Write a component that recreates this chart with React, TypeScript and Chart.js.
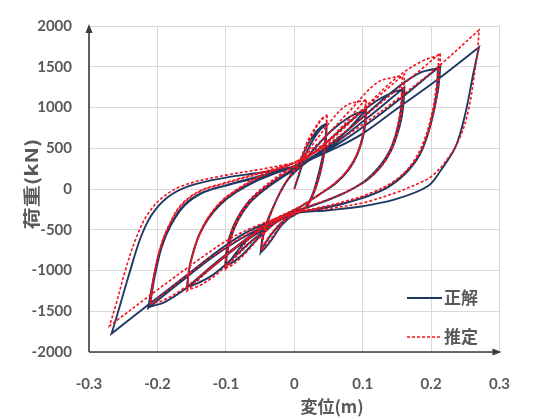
import React, { useEffect, useRef } from 'react';
import { Chart, registerables } from 'chart.js';

Chart.register(...registerables);

type Pt = [number, number];

const xTickLabels = ['-0.3', '-0.2', '-0.1', '0', '0.1', '0.2', '0.3'];
const yTickLabels = ['-2000', '-1500', '-1000', '-500', '0', '500', '1000', '1500', '2000'];
const seriesLabels = ['正解', '推定'];
const xTitle = '変位(m)';
const yTitle = '荷重(kN)';

// ---- 正解 (navy, solid) ----
const trueAmp1: Pt[] = [
  [0, 0], [0.008, 200], [0.017, 430], [0.028, 610], [0.038, 730], [0.047, 790], [0.047, 790],
  [0.047, 680], [0.044, 450], [0.038, 200], [0.028, -60], [0.016, -240], [0, -320], [-0.015, -390], [-0.03, -520], [-0.042, -660], [-0.0485, -767], [-0.0485, -767],
  [-0.046, -600], [-0.038, -380], [-0.028, -170], [-0.017, 20], [-0.005, 170], [0.008, 330], [0.018, 520], [0.03, 680], [0.04, 770], [0.047, 800], [0.047, 800],
  [0.046, 660], [0.042, 420], [0.035, 170], [0.026, -80], [0.014, -250], [0, -310], [-0.018, -440], [-0.032, -610], [-0.043, -730], [-0.049, -775], [-0.049, -775],
  [-0.047, -620], [-0.042, -450], [-0.032, -244], [-0.0205, -42], [-0.009, 118], [0.005, 239], [0.02, 340], [0.04, 450], [0.06, 580], [0.08, 740], [0.095, 880], [0.105, 964], [0.105, 964],
];
const trueAmp2: Pt[] = [
  [0.104, 800], [0.1, 620], [0.092, 420], [0.08, 240], [0.062, 80], [0.04, -50], [0.02, -160], [0, -260], [-0.025, -360], [-0.05, -480], [-0.075, -680], [-0.1, -950], [-0.1, -950],
  [-0.098, -780], [-0.092, -580], [-0.082, -380], [-0.066, -180], [-0.045, -20], [-0.02, 130], [0.005, 270], [0.03, 500], [0.055, 720], [0.08, 880], [0.095, 940], [0.104, 950], [0.104, 950],
  [0.103, 790], [0.099, 610], [0.091, 410], [0.078, 230], [0.06, 70], [0.038, -60], [0.018, -170], [0, -270], [-0.025, -400], [-0.05, -580], [-0.075, -800], [-0.092, -910], [-0.101, -940], [-0.101, -940],
  [-0.099, -770], [-0.094, -570], [-0.084, -370], [-0.068, -170], [-0.047, -10], [-0.022, 140], [0, 250], [0.03, 390], [0.06, 560], [0.09, 760], [0.12, 960], [0.14, 1100], [0.161, 1247], [0.161, 1247],
];
const trueAmp3: Pt[] = [
  [0.16, 1080], [0.157, 880], [0.151, 680], [0.142, 480], [0.128, 290], [0.108, 120], [0.08, -20], [0.05, -130], [0.02, -220], [0, -280], [-0.03, -400], [-0.06, -550], [-0.09, -740], [-0.12, -940], [-0.157, -1211], [-0.157, -1211],
  [-0.154, -1000], [-0.148, -790], [-0.139, -570], [-0.126, -370], [-0.108, -190], [-0.085, -40], [-0.055, 100], [-0.025, 200], [0, 280], [0.04, 520], [0.08, 820], [0.12, 1080], [0.145, 1190], [0.158, 1220], [0.158, 1220],
  [0.157, 1060], [0.154, 860], [0.148, 660], [0.139, 460], [0.125, 280], [0.105, 110], [0.078, -30], [0.048, -140], [0.02, -225], [0, -285], [-0.03, -430], [-0.06, -620], [-0.09, -850], [-0.12, -1060], [-0.145, -1170], [-0.156, -1195], [-0.156, -1195],
  [-0.154, -1000], [-0.148, -780], [-0.139, -560], [-0.126, -360], [-0.108, -180], [-0.085, -30], [-0.055, 110], [-0.025, 210], [0, 280], [0.04, 430], [0.08, 640], [0.12, 880], [0.16, 1140], [0.19, 1350], [0.2135, 1508], [0.2135, 1508],
];
const trueAmp4: Pt[] = [
  [0.212, 1350], [0.21, 1206], [0.201, 843], [0.187, 481], [0.168, 239], [0.14, 38], [0.11, -80], [0.07, -180], [0.03, -250], [0, -300], [-0.04, -440], [-0.08, -620], [-0.12, -840], [-0.16, -1100], [-0.19, -1300], [-0.2135, -1460], [-0.2135, -1460],
  [-0.2065, -1130], [-0.195, -727], [-0.181, -445], [-0.162, -203], [-0.134, -42], [-0.1015, 38], [-0.05, 150], [0, 270], [0.05, 530], [0.1, 880], [0.15, 1240], [0.185, 1430], [0.21, 1480], [0.21, 1480],
  [0.208, 1180], [0.2, 830], [0.186, 470], [0.166, 230], [0.138, 30], [0.108, -85], [0.07, -185], [0.03, -255], [0, -305], [-0.04, -470], [-0.08, -690], [-0.12, -960], [-0.16, -1230], [-0.19, -1390], [-0.211, -1445], [-0.211, -1445],
  [-0.205, -1120], [-0.194, -720], [-0.18, -440], [-0.16, -200], [-0.132, -40], [-0.1, 45], [-0.05, 160], [0, 280], [0.06, 500], [0.1, 680], [0.15, 985], [0.21, 1347], [0.27, 1740], [0.27, 1740],
];
const trueAmp5: Pt[] = [
  [0.2615, 1408], [0.25, 925], [0.236, 522], [0.215, 240], [0.195, 34], [0.147, -128], [0.1, -211], [0.05, -260], [0, -300], [-0.06, -490], [-0.1, -690], [-0.15, -1010], [-0.21, -1400], [-0.267, -1774], [-0.267, -1774],
  [-0.2555, -1452], [-0.2415, -1049], [-0.225, -607], [-0.209, -324], [-0.1855, -103], [-0.153, 39], [-0.1, 140], [-0.05, 200], [0, 270],
];

// ---- 推定 (red, dashed) ----
const estAmp1: Pt[] = [
  [0, 0], [0.008, 230], [0.017, 480], [0.028, 690], [0.038, 830], [0.047, 900], [0.047, 900],
  [0.047, 760], [0.045, 500], [0.039, 230], [0.029, -40], [0.017, -230], [0, -310], [-0.015, -380], [-0.03, -510], [-0.042, -650], [-0.047, -750], [-0.047, -750],
  [-0.045, -590], [-0.037, -370], [-0.027, -160], [-0.016, 30], [-0.004, 190], [0.009, 370], [0.019, 580], [0.031, 760], [0.041, 870], [0.048, 890], [0.048, 890],
  [0.047, 740], [0.044, 480], [0.037, 200], [0.027, -60], [0.015, -240], [0, -300], [-0.018, -430], [-0.033, -600], [-0.044, -720], [-0.048, -760], [-0.048, -760],
  [-0.046, -600], [-0.041, -430], [-0.031, -230], [-0.02, -30], [-0.008, 140], [0.006, 270], [0.02, 390], [0.04, 520], [0.06, 680], [0.08, 860], [0.095, 1010], [0.105, 1106], [0.105, 1106],
];
const estAmp2: Pt[] = [
  [0.105, 930], [0.102, 720], [0.095, 500], [0.083, 290], [0.065, 110], [0.043, -30], [0.022, -150], [0, -250], [-0.025, -350], [-0.05, -480], [-0.075, -700], [-0.1, -980], [-0.1, -980],
  [-0.098, -800], [-0.092, -590], [-0.082, -380], [-0.066, -170], [-0.045, 0], [-0.02, 160], [0.005, 310], [0.03, 580], [0.055, 850], [0.075, 1020], [0.095, 1075], [0.104, 1080], [0.104, 1080],
  [0.104, 900], [0.101, 700], [0.094, 480], [0.081, 270], [0.063, 100], [0.041, -40], [0.02, -160], [0, -260], [-0.025, -400], [-0.05, -590], [-0.075, -820], [-0.092, -940], [-0.101, -970], [-0.101, -970],
  [-0.099, -790], [-0.094, -580], [-0.084, -370], [-0.068, -160], [-0.047, 10], [-0.022, 170], [0, 290], [0.03, 450], [0.06, 650], [0.09, 880], [0.12, 1110], [0.14, 1260], [0.161, 1408], [0.161, 1408],
];
const estAmp3: Pt[] = [
  [0.16, 1220], [0.158, 1000], [0.153, 770], [0.145, 540], [0.132, 330], [0.112, 150], [0.085, 0], [0.055, -110], [0.025, -200], [0, -270], [-0.03, -390], [-0.06, -550], [-0.09, -750], [-0.12, -960], [-0.157, -1250], [-0.157, -1250],
  [-0.154, -1020], [-0.148, -800], [-0.139, -570], [-0.126, -360], [-0.108, -170], [-0.085, -20], [-0.055, 130], [-0.025, 240], [0, 320], [0.04, 600], [0.08, 950], [0.12, 1300], [0.145, 1370], [0.158, 1380], [0.158, 1380],
  [0.157, 1190], [0.155, 970], [0.15, 740], [0.142, 510], [0.129, 310], [0.109, 130], [0.082, -10], [0.052, -120], [0.022, -210], [0, -275], [-0.03, -430], [-0.06, -630], [-0.09, -870], [-0.12, -1090], [-0.145, -1210], [-0.156, -1235], [-0.156, -1235],
  [-0.154, -1010], [-0.148, -790], [-0.139, -560], [-0.126, -350], [-0.108, -160], [-0.085, -10], [-0.055, 140], [-0.025, 250], [0, 320], [0.04, 500], [0.08, 740], [0.12, 1010], [0.16, 1290], [0.19, 1500], [0.2135, 1670], [0.2135, 1670],
];
const estAmp4: Pt[] = [
  [0.213, 1500], [0.211, 1300], [0.204, 950], [0.192, 600], [0.175, 330], [0.15, 120], [0.115, -40], [0.075, -150], [0.035, -230], [0, -290], [-0.04, -430], [-0.08, -610], [-0.12, -830], [-0.16, -1080], [-0.19, -1280], [-0.211, -1420], [-0.211, -1420],
  [-0.206, -1110], [-0.196, -730], [-0.183, -450], [-0.165, -200], [-0.138, -30], [-0.105, 60], [-0.05, 190], [0, 320], [0.05, 600], [0.1, 980], [0.15, 1370], [0.187, 1569], [0.211, 1640], [0.211, 1640],
  [0.21, 1460], [0.208, 1270], [0.201, 920], [0.189, 580], [0.172, 310], [0.147, 100], [0.112, -50], [0.073, -160], [0.033, -240], [0, -295], [-0.04, -460], [-0.08, -680], [-0.12, -950], [-0.16, -1210], [-0.19, -1360], [-0.21, -1410], [-0.21, -1410],
  [-0.206, -1100], [-0.196, -720], [-0.183, -440], [-0.165, -190], [-0.137, -20], [-0.104, 70], [-0.05, 200], [0, 330], [0.06, 580], [0.1, 790], [0.15, 1100], [0.21, 1500], [0.27, 1950], [0.27, 1950],
];
const estAmp5: Pt[] = [
  [0.268, 1700], [0.264, 1448], [0.2545, 964], [0.2406, 602], [0.2196, 320], [0.2, 150], [0.187, 90], [0.15, -40], [0.1, -170], [0.05, -240], [0, -290], [-0.06, -470], [-0.1, -640], [-0.15, -930], [-0.21, -1300], [-0.27, -1680], [-0.27, -1680],
  [-0.26, -1400], [-0.247, -1000], [-0.231, -600], [-0.215, -320], [-0.192, -100], [-0.16, 50], [-0.1, 170], [-0.05, 240], [0, 320],
];

const trueSeries: Pt[] = [...trueAmp1, ...trueAmp2, ...trueAmp3, ...trueAmp4, ...trueAmp5];
const estSeries: Pt[] = [...estAmp1, ...estAmp2, ...estAmp3, ...estAmp4, ...estAmp5];

const NAVY = '#1f3864';
const RED = '#f0141e';
const TEXT = '#595959';

const decorPlugin = {
  id: 'decor',
  afterDraw(chart: any) {
    const { ctx, chartArea: a } = chart;
    ctx.save();
    // axes with arrows
    ctx.strokeStyle = '#3c3c3c';
    ctx.fillStyle = '#3c3c3c';
    ctx.lineWidth = 1.6;
    ctx.beginPath();
    ctx.moveTo(a.left, a.bottom);
    ctx.lineTo(a.left, a.top + 5);
    ctx.moveTo(a.left, a.bottom);
    ctx.lineTo(a.right - 5, a.bottom);
    ctx.stroke();
    ctx.beginPath();
    ctx.moveTo(a.left, a.top - 2);
    ctx.lineTo(a.left - 3.5, a.top + 7);
    ctx.lineTo(a.left + 3.5, a.top + 7);
    ctx.closePath();
    ctx.fill();
    ctx.beginPath();
    ctx.moveTo(a.right + 2, a.bottom);
    ctx.lineTo(a.right - 7, a.bottom - 3.5);
    ctx.lineTo(a.right - 7, a.bottom + 3.5);
    ctx.closePath();
    ctx.fill();

    // axis titles
    ctx.fillStyle = TEXT;
    ctx.font = "bold 17px 'Noto Sans CJK JP'";
    ctx.textAlign = 'center';
    ctx.textBaseline = 'middle';
    ctx.fillText(xTitle, 332, 407);
    ctx.save();
    ctx.translate(32, 184);
    ctx.rotate(-Math.PI / 2);
    ctx.scale(1.3, 1);
    ctx.fillText(yTitle, 0, 0);
    ctx.restore();

    // legend
    const ds = chart.data.datasets;
    const rows = [298, 337];
    ds.forEach((d: any, i: number) => {
      const y = rows[i];
      ctx.save();
      ctx.strokeStyle = d.borderColor;
      ctx.lineWidth = d.borderWidth;
      ctx.setLineDash(d.borderDash || []);
      ctx.beginPath();
      ctx.moveTo(407, y);
      ctx.lineTo(442, y);
      ctx.stroke();
      ctx.restore();
      ctx.fillStyle = TEXT;
      ctx.font = "bold 17px 'Noto Sans CJK JP'";
      ctx.textAlign = 'left';
      ctx.textBaseline = 'middle';
      ctx.fillText(d.label, 444, y);
    });
    ctx.restore();
  },
};

export default function App() {
  const ref = useRef<HTMLCanvasElement | null>(null);
  useEffect(() => {
    if (!ref.current) return;
    const toXY = (arr: Pt[]) => arr.map(([x, y]) => ({ x, y }));
    const chart = new Chart(ref.current, {
      type: 'scatter',
      data: {
        datasets: [
          {
            label: seriesLabels[0],
            data: toXY(trueSeries),
            showLine: true,
            borderColor: NAVY,
            borderWidth: 1.9,
            pointRadius: 0,
            tension: 0.35,
            order: 2,
          },
          {
            label: seriesLabels[1],
            data: toXY(estSeries),
            showLine: true,
            borderColor: RED,
            borderWidth: 1.6,
            borderDash: [3, 2],
            pointRadius: 0,
            tension: 0.35,
            order: 1,
          },
        ],
      },
      options: {
        responsive: false,
        animation: false,
        devicePixelRatio: 1,
        layout: { padding: { top: 21, right: 15, left: 0, bottom: 0 } },
        plugins: { legend: { display: false }, tooltip: { enabled: false } },
        scales: {
          x: {
            type: 'linear',
            min: -0.3,
            max: 0.3,
            afterFit: (s: any) => { s.height = 67; },
            ticks: {
              stepSize: 0.1,
              padding: 23,
              color: TEXT,
              font: { family: 'Lato', size: 15, weight: 'bold' },
              callback: (v: any) => xTickLabels[Math.round((Number(v) + 0.3) * 10)] ?? '',
            },
            grid: { color: '#d9d9d9', lineWidth: 1, drawTicks: false },
            border: { display: false },
          },
          y: {
            type: 'linear',
            min: -2000,
            max: 2000,
            afterFit: (s: any) => { s.width = 89; },
            ticks: {
              stepSize: 500,
              padding: 17,
              color: TEXT,
              font: { family: 'Lato', size: 15, weight: 'bold' },
              callback: (v: any) => yTickLabels[Math.round((Number(v) + 2000) / 500)] ?? '',
            },
            grid: { color: '#d9d9d9', lineWidth: 1, drawTicks: false },
            border: { display: false },
          },
        },
      },
      plugins: [decorPlugin],
    });
    return () => chart.destroy();
  }, []);
  return (
    <div style={{ position: 'absolute', left: 0, top: 0, width: 533, height: 419, background: '#fff' }}>
      <canvas ref={ref} width={533} height={419} />
    </div>
  );
}
